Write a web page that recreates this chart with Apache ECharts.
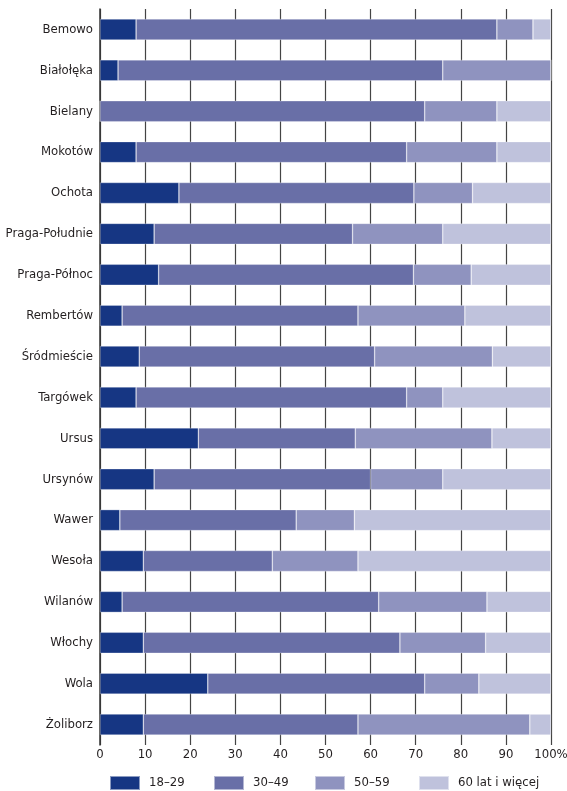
<!DOCTYPE html>
<html>
<head>
<meta charset="utf-8">
<script src="https://cdn.jsdelivr.net/npm/echarts@6/dist/echarts.min.js"></script>
<style>
  html, body { margin: 0; padding: 0; background: #fff; }
  #chart { width: 567px; height: 791px; }
</style>
</head>
<body>
<div id="chart"></div>
<script>
// dzielnice, od góry do dołu
var districts = ['Bemowo', 'Białołęka', 'Bielany', 'Mokotów', 'Ochota', 'Praga-Południe',
  'Praga-Północ', 'Rembertów', 'Śródmieście', 'Targówek', 'Ursus', 'Ursynów', 'Wawer',
  'Wesoła', 'Wilanów', 'Włochy', 'Wola', 'Żoliborz'];

// udział grup wiekowych (%)
var age18_29 = [8, 4, 0, 8, 17.5, 12, 13, 4.9, 8.7, 8, 21.8, 12, 4.4, 9.6, 4.9, 9.6, 23.9, 9.6];
var age30_49 = [80, 72, 72, 60, 52.1, 44, 56.5, 52.3, 52.2, 60, 34.8, 48, 39.1, 28.6, 56.9, 56.9, 48.1, 47.6];
var age50_59 = [8, 24, 16, 20, 13, 20, 12.8, 23.7, 26.1, 8, 30.3, 16, 12.9, 19, 24, 19, 12, 38.1];
var age60plus = [4, 0, 12, 12, 17.4, 24, 17.7, 19.1, 13, 24, 13.1, 24, 43.6, 42.8, 14.2, 14.5, 16, 4.7];

var seriesNames = ['18–29', '30–49', '50–59', '60 lat i więcej'];
var colors = ['#163683', '#696fa7', '#8f93bf', '#bfc2dc'];
var legendLeft = [109, 213, 314, 418];

var font = '"DejaVu Sans Condensed", "Liberation Sans Narrow", sans-serif';

var myChart = echarts.init(document.getElementById('chart'));

function bar(name, data) {
	return {
		name: name,
		type: 'bar',
		stack: 'all',
		barWidth: 21,
		data: data,
		itemStyle: { borderColor: 'rgba(255,255,255,0.5)', borderWidth: 0.6 }
	};
}

// osobna legenda dla każdej grupy, żeby trzymać pozycje
var legends = seriesNames.map(function (n, i) {
	return {
		left: legendLeft[i],
		top: 775,
		padding: 0,
		itemWidth: 30,
		itemHeight: 14,
		icon: 'rect',
		selectedMode: false,
		textStyle: { fontFamily: font, fontSize: 13, color: '#231f20', padding: [0, 0, 0, 4] },
		data: [n]
	};
});

var option = {
	animation: false,
	color: colors,
	grid: { left: 100, right: 16, top: 9, bottom: 46, outerBoundsMode: 'none', containLabel: false },
	legend: legends,
	xAxis: {
		type: 'value',
		min: 0,
		max: 100,
		interval: 10,
		axisLine: { show: false },
		axisTick: { show: false },
		splitLine: { show: true, lineStyle: { color: '#444', width: 1.2 } },
		axisLabel: {
			margin: 3,
			fontFamily: font,
			fontSize: 13,
			color: '#231f20',
			formatter: function (v) { return v === 100 ? '100%' : v; }
		}
	},
	yAxis: {
		type: 'category',
		inverse: true,
		data: districts,
		axisLine: { show: true, lineStyle: { color: '#333', width: 1.5 } },
		axisTick: { show: false },
		axisLabel: { margin: 7, fontFamily: font, fontSize: 13, color: '#231f20' }
	},
	series: [
		bar(seriesNames[0], age18_29),
		bar(seriesNames[1], age30_49),
		bar(seriesNames[2], age50_59),
		bar(seriesNames[3], age60plus)
	]
};

myChart.setOption(option);
</script>
</body>
</html>
